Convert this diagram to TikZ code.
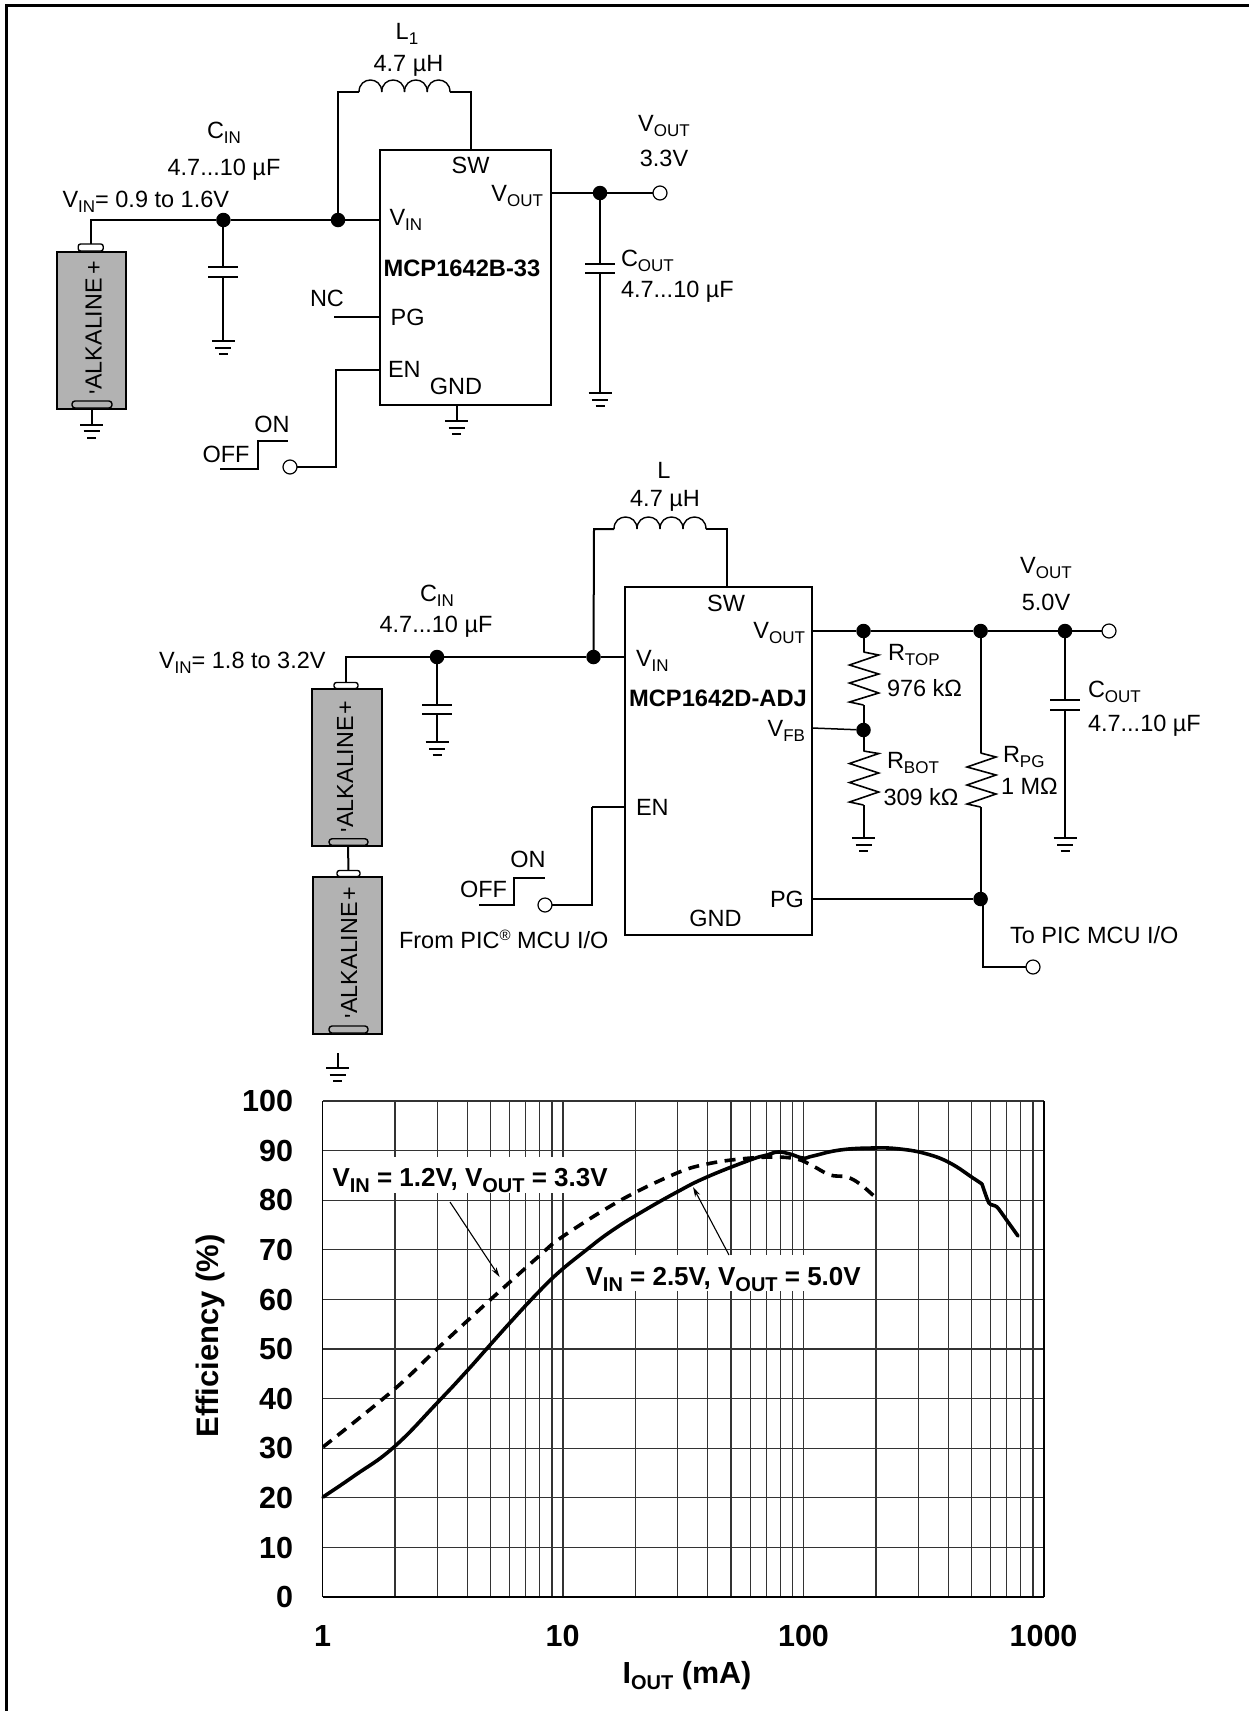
\documentclass[tikz,border=0pt]{standalone}
\usepackage{fontspec}
\setmainfont{Liberation Sans}
\usetikzlibrary{arrows.meta,calc}
\newcommand{\sbs}[1]{\raisebox{-5pt}{\fontsize{17}{17}\selectfont #1}}
\newcommand{\sbb}[1]{\raisebox{-5.5pt}{\fontsize{18}{18}\selectfont\bfseries #1}}
\newcommand{\sbc}[1]{\raisebox{-6pt}{\fontsize{20}{20}\selectfont\bfseries #1}}
\newcommand{\coilpath}[3]{\foreach \i in {0,1,2,3}{\draw[coilline] ({#1+\i*#3},#2) .. controls ({#1+\i*#3},#2-16) and ({#1+(\i+1)*#3},#2-16) .. ({#1+(\i+1)*#3},#2);}}
\tikzset{
  x=1pt,y=-1pt,
  every node/.style={inner sep=0pt,outer sep=0pt},
  wire/.style={line width=2pt,black,line join=miter},
  thinwire/.style={line width=1.6pt,black},
  coilline/.style={line width=1.4pt,black},
  txt/.style={font=\fontsize{23.5}{28}\selectfont,anchor=base},
  txtl/.style={txt,anchor=base west},
  txtr/.style={txt,anchor=base east},
  boldtxt/.style={font=\fontsize{23.7}{28}\selectfont\bfseries,anchor=base},
  alk/.style={font=\fontsize{23.3}{28}\selectfont,rotate=90,anchor=base west},
  dot/.style={circle,fill=black,minimum size=14.5pt},
  opn/.style={circle,draw=black,fill=white,line width=1.2pt,minimum size=14pt},
  ic/.style={rectangle,draw=black,line width=2pt,fill=white},
  batt/.style={rectangle,draw=black,line width=2.4pt,fill=batgray},
  capt/.style={rectangle,rounded corners=2.4pt,draw=black,line width=1.4pt,fill=white},
  capb/.style={rectangle,rounded corners=3pt,draw=black,line width=1.4pt,fill=batgray},
  plate/.style={line width=2pt,black},
  gridline/.style={line width=1.25pt,gridcol},
  curve/.style={line width=3.6pt,black,line cap=round,line join=round},
  dcurve/.style={line width=3.6pt,black,dash pattern=on 11pt off 7.5pt,line join=round},
  axn/.style={font=\fontsize{30.5}{34}\selectfont\bfseries},
  cl/.style={font=\fontsize{26}{30}\selectfont\bfseries,anchor=base west},
  pointer/.style={line width=1.1pt,black,-{Stealth[length=10pt,width=5.5pt]}},
  pics/gnd/.style={code={
    \draw[plate] (-11.5,0) -- (11.5,0);
    \draw[plate] (-8,6.5) -- (8,6.5);
    \draw[plate] (-4.5,13) -- (4.5,13);
  }},
}
\definecolor{batgray}{HTML}{B2B2B2}
\definecolor{gridcol}{HTML}{333333}
\begin{document}
\begin{tikzpicture}
\useasboundingbox (0,0) rectangle (1249,1711);
% frame
\coordinate (fa) at (6.5,1711);
\coordinate (fb) at (6.5,5.5);
\coordinate (fc) at (1249,5.5);
\draw[line width=2.2pt,black] (fa) -- (fb) -- (fc);

%% ---------- circuit 1 ----------
\node[ic,minimum width=171pt,minimum height=255pt] (ic1) at (465.5,277.5) {};
\node[batt,minimum width=69pt,minimum height=157pt] (b1) at (91.5,330.5) {};
\node[capt,minimum width=25pt,minimum height=7pt] (b1t) at (90.7,247.5) {};
\node[capb,minimum width=40pt,minimum height=7pt] (b1b) at (92,404.5) {};
\node[alk] (b1l) at (101.7,394) {\raisebox{-4pt}{\textquotesingle}ALKALINE\hspace{4pt}+};
\node[dot] (j1) at (223.4,220) {};
\node[dot] (j2) at (338,220) {};
\node[dot] (j3) at (600,193) {};
\node[opn] (o1) at (660,193) {};
\node[opn] (o2) at (290,467) {};
\coordinate (w1) at (90.7,220);
\coordinate (la) at (359,92);
\coordinate (lb) at (450,92);
\coordinate (lc) at (338,92);
\coordinate (ld) at (471,92);
\draw[wire] (b1t.north) -- (w1) -- (j1) -- (j2) -- (j2 -| ic1.west);
\draw[wire] (j2) -- (lc) -- (la);
\coilpath{359}{92}{22.75}
\draw[wire] (lb) -- (ld) -- (ld |- ic1.north);
% cin
\coordinate (c1a) at (223.4,267);
\coordinate (c1b) at (223.4,277);
\coordinate (g1) at (223.4,341);
\draw[wire] (j1) -- (c1a) (c1b) -- (g1);
\draw[plate] ($(c1a)+(-15,0)$) -- ($(c1a)+(15,0)$);
\draw[plate] ($(c1b)+(-15,0)$) -- ($(c1b)+(15,0)$);
\pic at (g1) {gnd};
% battery gnd
\coordinate (g2) at (91.7,424.5);
\draw[wire] (91.7,409) -- (g2);
\pic at (g2) {gnd};
% ic gnd
\coordinate (g3) at (456.7,421);
\draw[wire] (g3 |- ic1.south) -- (g3);
\pic at (g3) {gnd};
% pg
\coordinate (nc) at (334,317);
\draw[wire] (nc) -- (nc -| ic1.west);
% en
\coordinate (en1) at (336,369.5);
\draw[wire] (ic1.west |- en1) -- (en1) -- (336,467) -- (o2);
% step
\coordinate (s1a) at (220,469);
\coordinate (s1b) at (258,469);
\coordinate (s1c) at (258,441);
\coordinate (s1d) at (287.5,441);
\draw[wire] (s1a) -- (s1b) -- (s1c) -- (s1d);
% out
\draw[wire] (ic1.east |- j3) -- (j3) -- (o1);
\coordinate (c2a) at (600,264);
\coordinate (c2b) at (600,273);
\coordinate (g4) at (600,393);
\draw[wire] (j3) -- (c2a) (c2b) -- (g4);
\draw[plate] ($(c2a)+(-15,0)$) -- ($(c2a)+(15,0)$);
\draw[plate] ($(c2b)+(-15,0)$) -- ($(c2b)+(15,0)$);
\pic at (g4) {gnd};
% labels 1
\node[txt] (t1) at (407,39) {L\sbs{1}};
\node[txt] (t2) at (408.5,71) {4.7 µH};
\node[txt] (t3) at (224,138) {C\sbs{IN}};
\node[txt] (t4) at (224,175) {4.7...10 µF};
\node[txtl] (t5) at (62.5,207) {V\sbs{IN}= 0.9 to 1.6V};
\node[txt] (t6) at (470.5,173) {SW};
\node[txtr] (t7) at (543,201) {V\sbs{OUT}};
\node[txtl] (t8) at (389.5,225) {V\sbs{IN}};
\node[boldtxt] (t9) at (462,276) {MCP1642B-33};
\node[txtl] (t10) at (310,306) {NC};
\node[txtl] (t11) at (390.7,325) {PG};
\node[txtl] (t12) at (388,377) {EN};
\node[txt] (t13) at (456,394) {GND};
\node[txt] (t14) at (272,432) {ON};
\node[txtl] (t15) at (202.5,462) {OFF};
\node[txt] (t16) at (664,131) {V\sbs{OUT}};
\node[txt] (t17) at (664,166) {3.3V};
\node[txtl] (t18) at (621,266) {C\sbs{OUT}};
\node[txtl] (t19) at (621,297) {4.7...10 µF};

%% ---------- circuit 2 ----------
\node[ic,minimum width=187pt,minimum height=348pt] (ic2) at (718.5,761) {};
\node[batt,minimum width=70pt,minimum height=157pt] (b2) at (347,767.5) {};
\node[capt,minimum width=24pt,minimum height=6pt] (b2t) at (346,685.5) {};
\node[capb,minimum width=39pt,minimum height=6.5pt] (b2b) at (348.5,842) {};
\node[alk] (b2l) at (353,832) {\raisebox{-4pt}{\textquotesingle}ALKALINE\hspace{2pt}+};
\node[batt,minimum width=69pt,minimum height=157pt] (b3) at (347.5,955.5) {};
\node[capt,minimum width=23pt,minimum height=6pt] (b3t) at (348.5,873.5) {};
\node[capb,minimum width=39pt,minimum height=7pt] (b3b) at (348.5,1029.5) {};
\node[alk] (b3l) at (357,1018) {\raisebox{-4pt}{\textquotesingle}ALKALINE\hspace{2pt}+};
\node[dot] (k1) at (437,657) {};
\node[dot] (k2) at (593.5,657) {};
\node[dot] (k3) at (863.5,631) {};
\node[dot] (k4) at (980.6,631) {};
\node[dot] (k5) at (1065,631) {};
\node[dot] (k6) at (863.5,730) {};
\node[dot] (k7) at (980.6,899) {};
\node[opn] (p1) at (1109,631) {};
\node[opn] (p2) at (1033,967) {};
\node[opn] (p3) at (545,905) {};
\coordinate (x1) at (346,657);
\draw[line width=1.5pt] (b2t.north) -- (x1) -- (k1) -- (k2) -- (ic2.west |- k2);
\draw[wire] (b2t.north) -- (346,670);
\coordinate (ma) at (614,529);
\coordinate (mb) at (706,529);
\coordinate (mc) at (594,529);
\coordinate (md) at (727,529);
\draw[wire] (k2) -- (mc) -- (ma);
\coilpath{614}{529}{23}
\draw[wire] (mb) -- (md) -- (md |- ic2.north);
\draw[wire] (348,846) -- (b3t.north);
% cin2
\coordinate (c3a) at (437,705);
\coordinate (c3b) at (437,714);
\coordinate (g5) at (437,742);
\draw[wire] (k1) -- (c3a) (c3b) -- (g5);
\draw[plate] ($(c3a)+(-15,0)$) -- ($(c3a)+(15,0)$);
\draw[plate] ($(c3b)+(-15,0)$) -- ($(c3b)+(15,0)$);
\pic at (g5) {gnd};
% battery gnd (free)
\coordinate (g6a) at (337.5,1053);
\coordinate (g6) at (337.5,1068);
\draw[wire] (g6a) -- (g6);
\pic at (g6) {gnd};
% en
\coordinate (en2) at (592,807);
\draw[wire] (p3) -- (592,905) -- (en2);
\draw[line width=1.5pt] (en2) -- (en2 -| ic2.west);
\coordinate (s2a) at (479,905);
\coordinate (s2b) at (514,905);
\coordinate (s2c) at (514,878);
\coordinate (s2d) at (545,878);
\draw[wire] (s2a) -- (s2b) -- (s2c) -- (s2d);
% out
\draw[line width=1.7pt] (ic2.east |- k3) -- (k3) -- (k4) -- (k5) -- (p1);
% rtop
\coordinate (r1a) at (863.5,652);
\coordinate (r1b) at (863.5,705);
\draw[wire] (k3) -- (r1a);
\draw[thinwire,line join=miter] (r1a) -- (878.7,655) -- (849.5,665) -- (878.7,674) -- (849.5,683) -- (878.7,693) -- (849.5,702) -- (r1b);
\draw[wire] (r1b) -- (k6);
\draw[line width=1.5pt] (ic2.east |- 0,728) -- (k6);
% rbot
\coordinate (r2a) at (863.5,751);
\coordinate (r2b) at (863.5,805);
\coordinate (g7) at (863.5,838);
\draw[wire] (k6) -- (r2a);
\draw[thinwire,line join=miter] (r2a) -- (878.7,753.5) -- (849.5,763.5) -- (878.7,773) -- (849.5,782.5) -- (878.7,792) -- (849.5,802) -- (r2b);
\draw[wire] (r2b) -- (g7);
\pic at (g7) {gnd};
% rpg
\coordinate (r3a) at (980.6,753);
\coordinate (r3b) at (980.6,807);
\draw[wire] (k4) -- (r3a);
\draw[thinwire,line join=miter] (r3a) -- (996,757) -- (967,767) -- (996,775) -- (967,785) -- (996,794) -- (967,804) -- (r3b);
\draw[wire] (r3b) -- (k7);
\draw[line width=1.5pt] (ic2.east |- k7) -- (k7);
\coordinate (q1) at (983,899);
\coordinate (q2) at (983,967);
\draw[wire] (q1) -- (q2) -- (p2);
% cout2
\coordinate (c4a) at (1065,700);
\coordinate (c4b) at (1065,710);
\coordinate (g8) at (1065,838);
\draw[wire] (k5) -- (c4a) (c4b) -- (g8);
\draw[plate] ($(c4a)+(-15,0)$) -- ($(c4a)+(15,0)$);
\draw[plate] ($(c4b)+(-15,0)$) -- ($(c4b)+(15,0)$);
\pic at (g8) {gnd};
% labels 2
\node[txt] (u1) at (664,478) {L};
\node[txt] (u2) at (665,506) {4.7 µH};
\node[txt] (u3) at (437,601) {C\sbs{IN}};
\node[txt] (u4) at (436,632) {4.7...10 µF};
\node[txtl] (u5) at (159,668) {V\sbs{IN}= 1.8 to 3.2V};
\node[txt] (u6) at (726,611) {SW};
\node[txtr] (u7) at (805,638) {V\sbs{OUT}};
\node[txtl] (u8) at (636,666) {V\sbs{IN}};
\node[boldtxt] (u9) at (718,706) {MCP1642D-ADJ};
\node[txtr] (u10) at (805,736) {V\sbs{FB}};
\node[txtl] (u11) at (636,815) {EN};
\node[txtr] (u12) at (804,907) {PG};
\node[txt] (u13) at (715.5,926) {GND};
\node[txt] (u14) at (528,867) {ON};
\node[txtl] (u15) at (460,897) {OFF};
\node[txtl] (u16) at (399,948) {From PIC\raisebox{8pt}{\fontsize{15}{15}\selectfont ®} MCU I/O};
\node[txt] (u17) at (1046,573) {V\sbs{OUT}};
\node[txt] (u18) at (1046,610) {5.0V};
\node[txtl] (u19) at (888,660) {R\sbs{TOP}};
\node[txtl] (u20) at (887,696) {976 kΩ};
\node[txtl] (u21) at (887,768) {R\sbs{BOT}};
\node[txtl] (u22) at (883.5,805) {309 kΩ};
\node[txtl] (u23) at (1003,762) {R\sbs{PG}};
\node[txtl] (u24) at (1001,794) {1 MΩ};
\node[txtl] (u25) at (1088,697) {C\sbs{OUT}};
\node[txtl] (u26) at (1088,731) {4.7...10 µF};
\node[txtl] (u27) at (1010,943) {To PIC MCU I/O};

%% ---------- chart ----------
\foreach \v in {0,10,...,100} {
  \draw[gridline] (322.5,{1597-4.96*\v}) -- (1044,{1597-4.96*\v});
}
\foreach \d in {0,1,2} {
  \foreach \m in {1,2,3,4,5,6,7,8,9} {
    \draw[gridline] ({322.5+240.5*(\d+log10(\m))},1101) -- ({322.5+240.5*(\d+log10(\m))},1597);
  }
}
\draw[gridline] (1044,1101) -- (1044,1597);
\draw[line width=1.8pt,black] (322.5,1597) -- (1044,1597);
\draw[line width=1.8pt,black] (322.5,1101) -- (322.5,1597);
\draw[line width=1.8pt,black] (1044,1101) -- (1044,1597);
% white label backs
\node[fill=white,minimum width=303pt,minimum height=36pt] (lb1) at (475,1175) {};
\node[fill=white,minimum width=294pt,minimum height=36pt] (lb2) at (723,1273) {};
% curves
\draw[dcurve] plot[smooth,tension=.6] coordinates {(323,1447) (393.5,1390) (438,1348) (490,1300) (538,1257) (562,1237) (621,1200) (677,1173) (707,1164) (740,1159) (773,1157) (797,1159) (813,1166) (830,1175) (847,1177) (860,1184) (875,1197)};
\draw[curve] plot[smooth,tension=.75] coordinates {(323,1497) (354,1476) (394,1447) (438,1402) (466,1372) (490,1345) (510.6,1322) (534.7,1296) (558,1273) (585,1251) (610,1232) (640,1213) (677,1192) (707,1177) (750,1160) (767,1155) (778,1152) (790,1154) (803,1158) (813,1156) (840,1150) (873,1148) (900,1149) (927,1154) (950,1163) (973,1178) (982,1184)};
\draw[curve] plot[smooth,tension=.4] coordinates {(982,1184) (989,1203) (997,1207) (1008,1222) (1018,1236)};
% chart labels
\node[cl] (v1) at (332.5,1186) {V\sbc{IN} = 1.2V, V\sbc{OUT} = 3.3V};
\node[cl] (v2) at (585.6,1285) {V\sbc{IN} = 2.5V, V\sbc{OUT} = 5.0V};
\coordinate (a1) at (450,1202);
\coordinate (a2) at (499.6,1277);
\coordinate (a3) at (729,1255);
\coordinate (a4) at (693,1187);
\draw[pointer] (a1) -- (a2);
\draw[pointer] (a3) -- (a4);
\foreach \v in {0,10,...,100} {
  \node[axn,anchor=base east] at (293,{1597-4.96*\v+10.7}) {\v};
}
\node[axn,anchor=base] (xa) at (322.5,1646) {1};
\node[axn,anchor=base] (xb) at (562.5,1646) {10};
\node[axn,anchor=base] (xc) at (803.5,1646) {100};
\node[axn,anchor=base] (xd) at (1043.5,1646) {1000};
\node[axn,anchor=base] (xt) at (687,1683) {I\sbc{OUT} (mA)};
\node[font=\fontsize{31}{34}\selectfont\bfseries,rotate=90,anchor=base] (yt) at (218.6,1336) {Efficiency (\%)};
\end{tikzpicture}
\end{document}
